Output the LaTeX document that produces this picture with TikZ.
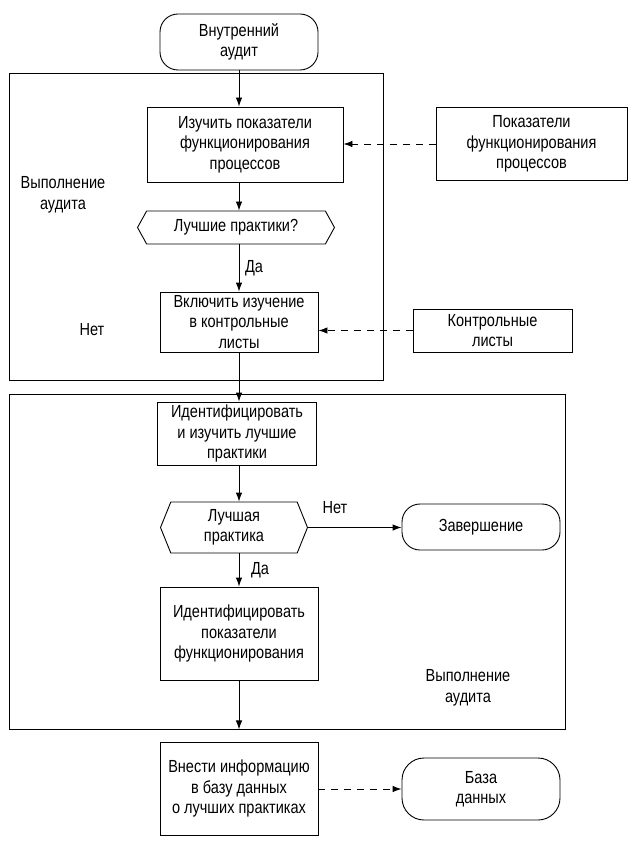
\documentclass[tikz,border=0pt]{standalone}
\usepackage{fontspec}
\setmainfont[FakeStretch=0.83]{Liberation Sans}
\usetikzlibrary{positioning,arrows.meta,shapes.symbols}
\tikzset{
  flowarrow/.style={-{Latex[length=9pt,width=6.5pt]}, line width=0.9pt},
  dasharrow/.style={flowarrow, dash pattern=on 7pt off 6pt},
  procbox/.style={draw, line width=0.9pt, align=center, inner sep=2pt},
  termnode/.style={draw, line width=0.9pt, rounded corners=18pt, align=center},
  choicenode/.style={draw, line width=0.9pt, shape=signal, signal to=east and west, align=center, inner sep=1pt},
  framebox/.style={draw, line width=0.9pt, inner sep=0pt},
  plainlabel/.style={align=center}
}

\begin{document}
\begin{tikzpicture}[x=1pt, y=-1pt, every node/.style={font=\fontsize{17.5}{20.5}\selectfont}]
      \useasboundingbox (0,0) rectangle (637,842);
      % frames
      \node[framebox, minimum width=374pt, minimum height=307pt] (frame1) at (196,226.5) {};
      \node[framebox, minimum width=556pt, minimum height=335pt] (frame2) at (287,561.5) {};
      \node[plainlabel] (exec1) at (63,195) {Выполнение\\аудита};
      \node[plainlabel] (exec2) at (468,688) {Выполнение\\аудита};
      % main column
      \node[termnode, minimum width=158pt, minimum height=56pt] (start) at (239,42) {Внутренний\\аудит};
      \node[procbox, minimum width=196pt, minimum height=75pt] (study) at (245,144.5) {Изучить показатели\\функционирования\\процессов};
      \node[choicenode, signal pointer angle=122, minimum width=197pt, minimum height=33pt] (hex1) at (236,227.5) {Лучшие практики?};
      \node[procbox, minimum width=158pt, minimum height=60pt] (incl) at (239,322) {Включить изучение\\в контрольные\\листы};
      \node[procbox, minimum width=159pt, minimum height=63pt] (ident) at (237,433.5) {Идентифицировать\\и изучить лучшие\\практики};
      \node[choicenode, signal pointer angle=136, minimum width=147pt, minimum height=51pt] (hex2) at (234,527.5) {Лучшая\\практика};
      \node[procbox, minimum width=158pt, minimum height=93pt] (identperf) at (239,633.5) {Идентифицировать\\показатели\\функционирования};
      \node[procbox, minimum width=158pt, minimum height=93pt] (store) at (239,788.5) {Внести информацию\\в базу данных\\о лучших практиках};
      % side nodes
      \node[procbox, minimum width=191pt, minimum height=73pt] (perf) at (531.5,144) {Показатели\\функционирования\\процессов};
      \node[procbox, minimum width=159pt, minimum height=43pt] (check) at (492.5,330.5) {Контрольные\\листы};
      \node[termnode, minimum width=158pt, minimum height=46pt] (finish) at (481,527) {Завершение};
      \node[termnode, rounded corners=22pt, minimum width=158pt, minimum height=62pt] (db) at (481,789) {База\\данных};
      % labels
      \node (yes1) at (254,268) {Да};
      \node (no1) at (92,330) {Нет};
      \node (no2) at (335,508) {Нет};
      \node (yes2) at (260,570) {Да};
      \coordinate (f2bot) at (identperf.south |- frame2.south);
      % connectors
      \draw[flowarrow] (start.south) -- (start.south |- study.north);
      \draw[flowarrow] (study.south -| start) -- (start |- hex1.north);
      \draw[flowarrow] (hex1.south -| start) -- (incl.north);
      \draw[flowarrow] (incl.south) -- (incl.south |- ident.north);
      \draw[flowarrow] (ident.south -| incl) -- (incl |- hex2.north);
      \draw[flowarrow] (hex2.south -| incl) -- (identperf.north);
      \draw[flowarrow] (identperf.south) -- (f2bot);
      \draw[flowarrow] (hex2.east) -- (hex2.east -| finish.west);
      \draw[dasharrow] (perf.west) -- (perf.west -| study.east);
      \draw[dasharrow] (check.west) -- (check.west -| incl.east);
      \draw[dasharrow] (store.east |- db) -- (db.west);
\end{tikzpicture}
\end{document}
